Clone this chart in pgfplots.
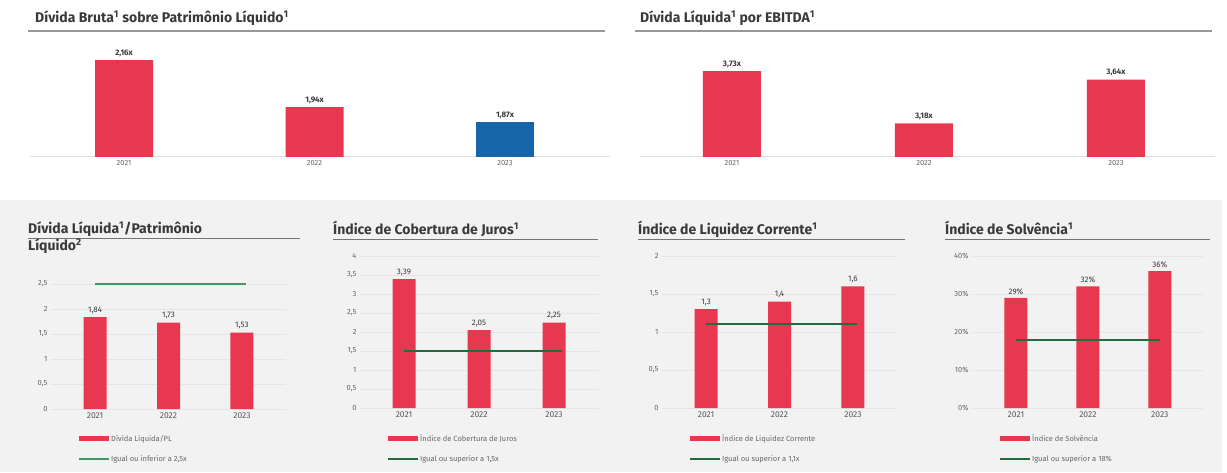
\documentclass[border=0pt]{standalone}
\usepackage{pgfplots}
\pgfplotsset{compat=1.18}
\usepackage{fontspec}
\setmainfont{Fira Sans}

\definecolor{barred}{HTML}{E8384F}
\definecolor{barblue}{HTML}{1565A8}
\definecolor{limgreen}{HTML}{236B3F}
\definecolor{limgreenl}{HTML}{3E9A60}
\definecolor{panelbg}{HTML}{F2F2F2}
\definecolor{txt}{HTML}{3A3A3A}

\tikzset{ttl/.style={anchor=base west, font=\fontsize{14}{16}\selectfont\bfseries, text=txt, inner sep=0pt}}

\pgfplotsset{
  topbar/.style={
    scale only axis, anchor=south west, ybar, bar width=58pt,
    height=110pt, clip=false,
    axis y line=none, axis x line*=bottom,
    x axis line style={black!12, line width=1pt},
    xtick={0,1,2}, xticklabels={2021,2022,2023},
    major tick length=0pt,
    tick label style={font=\fontsize{7.5}{9}\selectfont, text=black!60},
  },
  lowbar/.style={
    scale only axis, anchor=south west, ybar, bar width=23pt,
    clip=false, ymin=0, xmax=2.6,
    axis line style={draw=none}, major tick length=0pt,
    ymajorgrids, grid style={black!10, line width=0.6pt},
    xtick={0,1,2}, xticklabels={2021,2022,2023},
    x tick label style={font=\fontsize{8.5}{10}\selectfont, text=black!65},
    y tick label style={font=\fontsize{7.5}{9}\selectfont, text=black!60},
    /pgf/number format/.cd, use comma, 1000 sep={}, assume math mode=true,
    /pgfplots/.cd,
    legend style={at={(0,0)}, anchor=north west, xshift=27pt, yshift=-25pt,
      draw=none, fill=none, inner sep=0pt, row sep=11pt,
      font=\fontsize{7.5}{9}\selectfont, text=black!60,
      nodes={inner sep=1pt}},
    legend cell align=left,
  },
  barlab/.style={nodes near coords, point meta=explicit symbolic,
    nodes near coords style={font=\fontsize{8}{9}\selectfont, text=txt}},
  toplab/.style={nodes near coords, point meta=explicit symbolic,
    nodes near coords style={font=\fontsize{8}{9}\selectfont\bfseries, text=txt}},
  redleg/.style={legend image code/.code={\fill[barred] (0pt,-2.5pt) rectangle (30pt,2.5pt);}},
  greenleg/.style={legend image code/.code={\draw[#1, line width=2pt] (0pt,0pt) -- (30pt,0pt);}},
}

\begin{document}
\begin{tikzpicture}[x=1pt,y=1pt]
\fill[white] (0,0) rectangle (1227,472);
\fill[panelbg] (0,0) rectangle (1222,272);

% top titles
\node[ttl] at (35,449) {Dívida Bruta\textsuperscript{1} sobre Patrimônio Líquido\textsuperscript{1}};
\draw[black!40, line width=1.2pt] (28,441) -- (605,441);
\node[ttl] at (640,449) {Dívida Líquida\textsuperscript{1} por EBITDA\textsuperscript{1}};
\draw[black!40, line width=1.2pt] (635,441) -- (1212,441);

% top left
\begin{axis}[topbar, at={(30pt,315pt)}, width=580pt,
  xmin=-0.4934, xmax=2.551, ymin=1.706, ymax=2.221]
\addplot[fill=barred, draw=none, bar shift=0pt, toplab]
  coordinates {(0,2.16) [2,16x] (1,1.94) [1,94x]};
\addplot[fill=barblue, draw=none, bar shift=0pt, toplab]
  coordinates {(2,1.87) [1,87x]};
\end{axis}

% top right
\begin{axis}[topbar, at={(640pt,315pt)}, width=575pt,
  xmin=-0.479, xmax=2.516, ymin=2.825, ymax=3.983]
\addplot[fill=barred, draw=none, bar shift=0pt, toplab]
  coordinates {(0,3.73) [3,73x] (1,3.18) [3,18x] (2,3.64) [3,64x]};
\end{axis}

% bottom titles
\node[ttl] at (28,238) {Dívida Líquida\textsuperscript{1}/Patrimônio};
\draw[black!55, line width=1pt] (28,233) -- (300,233);
\node[ttl] at (28,221) {Líquido\textsuperscript{2}};
\node[ttl] at (333,237) {Índice de Cobertura de Juros\textsuperscript{1}};
\draw[black!55, line width=1pt] (333,232) -- (598,232);
\node[ttl] at (638,237) {Índice de Liquidez Corrente\textsuperscript{1}};
\draw[black!55, line width=1pt] (638,232) -- (905,232);
\node[ttl] at (945,237) {Índice de Solvência\textsuperscript{1}};
\draw[black!55, line width=1pt] (945,232) -- (1210,232);

% panel 1
\begin{axis}[lowbar, at={(51pt,63pt)}, width=235pt, height=125pt,
  xmin=-0.6, ymax=2.5, ytick={0,0.5,1,1.5,2,2.5}]
\addplot[fill=barred, draw=none, bar shift=0pt, barlab, redleg]
  coordinates {(0,1.84) [1,84] (1,1.73) [1,73] (2,1.53) [1,53]};
\addlegendentry{Dívida Líquida/PL}
\addplot[limgreenl, line width=2.5pt, sharp plot, no marks, greenleg=limgreenl]
  coordinates {(0,2.5) (2.05,2.5)};
\addlegendentry{Igual ou inferior a 2,5x}
\end{axis}

% panel 2
\begin{axis}[lowbar, at={(360pt,64pt)}, width=239pt, height=152pt,
  xmin=-0.587, ymax=4, ytick={0,0.5,...,4}]
\addplot[fill=barred, draw=none, bar shift=0pt, barlab, redleg]
  coordinates {(0,3.39) [3,39] (1,2.05) [2,05] (2,2.25) [2,25]};
\addlegendentry{Índice de Cobertura de Juros}
\addplot[limgreen, line width=2pt, sharp plot, no marks, greenleg=limgreen]
  coordinates {(0,1.5) (2.1,1.5)};
\addlegendentry{Igual ou superior a 1,5x}
\end{axis}

% panel 3
\begin{axis}[lowbar, at={(662pt,64pt)}, width=235pt, height=152pt,
  xmin=-0.6, ymax=2, ytick={0,0.5,1,1.5,2}]
\addplot[fill=barred, draw=none, bar shift=0pt, barlab, redleg]
  coordinates {(0,1.3) [1,3] (1,1.4) [1,4] (2,1.6) [1,6]};
\addlegendentry{Índice de Liquidez Corrente}
\addplot[limgreen, line width=2pt, sharp plot, no marks, greenleg=limgreen]
  coordinates {(0,1.1) (2.05,1.1)};
\addlegendentry{Igual ou superior a 1,1x}
\end{axis}

% panel 4
\begin{axis}[lowbar, at={(972pt,64pt)}, width=231pt, height=152pt,
  xmin=-0.611, ymax=40, ytick={0,10,20,30,40},
  yticklabel={\pgfmathprintnumber{\tick}\%}]
\addplot[fill=barred, draw=none, bar shift=0pt, barlab, redleg]
  coordinates {(0,29) [29\%] (1,32) [32\%] (2,36) [36\%]};
\addlegendentry{Índice de Solvência}
\addplot[limgreen, line width=2pt, sharp plot, no marks, greenleg=limgreen]
  coordinates {(0,18) (2,18)};
\addlegendentry{Igual ou superior a 18\%}
\end{axis}

\pgfresetboundingbox
\path (0,0) rectangle (1227,472);
\end{tikzpicture}
\end{document}
